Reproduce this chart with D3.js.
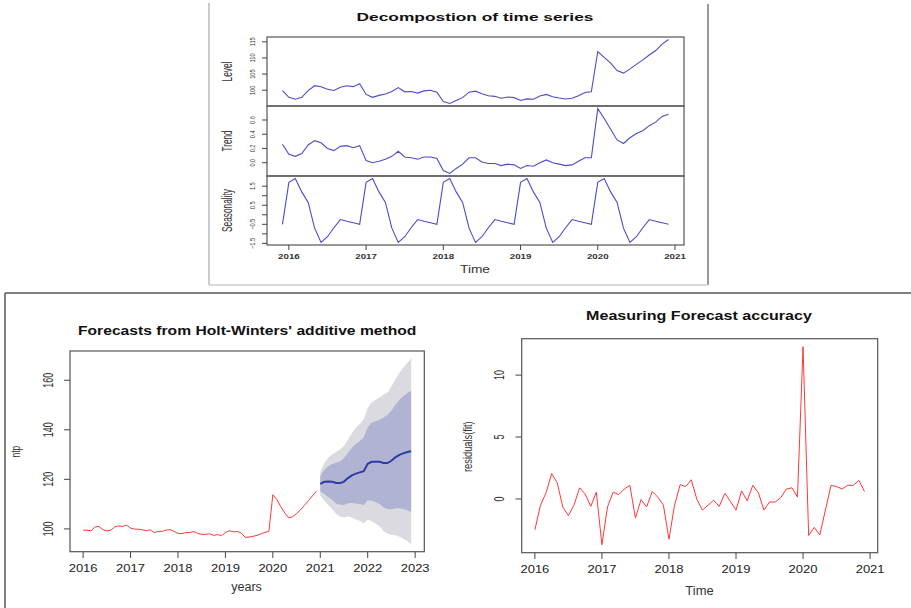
<!DOCTYPE html>
<html lang="en">
<head>
<meta charset="UTF-8">
<title>Holt-Winters</title>
<script src="https://cdn.jsdelivr.net/npm/d3@7"></script>
<style>
  body { margin: 0; background: #fff; }
  svg { display: block; font-family: "Liberation Sans", Arial, sans-serif; }
</style>
</head>
<body>
<svg id="chart" width="911" height="608"></svg>
<script>
// ---- data (monthly) ----
const decompStart = 2015 + 11 / 12;   // Dec 2015
const level = [99.9,
  97.8, 97.2, 97.8, 99.9, 101.4, 101.1, 100.3, 99.9, 100.9, 101.4, 101.1, 102.0,
  98.7, 97.8, 98.4, 98.8, 99.6, 100.8, 99.5, 99.6, 99.1, 99.8, 100.0, 99.4,
  96.5, 95.9, 96.8, 97.7, 99.4, 99.7, 98.9, 98.3, 98.1, 97.5, 97.9, 97.7,
  96.8, 97.3, 97.2, 98.2, 98.7, 98.0, 97.6, 97.3, 97.5, 98.3, 99.3, 99.5,
  112.0, 110.2, 108.4, 106.1, 105.3, 106.6, 108.0, 109.4, 110.9, 112.3, 114.3, 115.7];
const trend = [0.26,
  0.12, 0.09, 0.13, 0.25, 0.31, 0.28, 0.20, 0.17, 0.23, 0.24, 0.21, 0.24,
  0.03, 0.00, 0.02, 0.05, 0.09, 0.16, 0.08, 0.07, 0.05, 0.08, 0.08, 0.06,
  -0.11, -0.15, -0.08, -0.02, 0.07, 0.07, 0.01, -0.01, -0.01, -0.04, -0.02, -0.03,
  -0.08, -0.04, -0.05, 0.00, 0.04, 0.00, -0.02, -0.04, -0.03, 0.02, 0.07, 0.07,
  0.76, 0.62, 0.47, 0.32, 0.27, 0.35, 0.41, 0.45, 0.52, 0.57, 0.65, 0.68];
const season = [-0.5,
  1.7, 1.9, 1.2, 0.65, -0.7, -1.45, -1.15, -0.68, -0.25, -0.34, -0.42, -0.5,
  1.7, 1.9, 1.2, 0.65, -0.7, -1.45, -1.15, -0.68, -0.25, -0.34, -0.42, -0.5,
  1.7, 1.9, 1.2, 0.65, -0.7, -1.45, -1.15, -0.68, -0.25, -0.34, -0.42, -0.5,
  1.7, 1.9, 1.2, 0.65, -0.7, -1.45, -1.15, -0.68, -0.25, -0.34, -0.42, -0.5,
  1.7, 1.9, 1.2, 0.65, -0.7, -1.45, -1.15, -0.68, -0.25, -0.34, -0.42, -0.5];

const obsStart = 2016;                 // Jan 2016
const ntp = [
  99.5, 99.5, 99.2, 100.8, 101.0, 99.7, 99.2, 99.5, 100.8, 101.2, 101.0, 101.5,
  100.3, 99.9, 99.9, 99.6, 99.3, 99.6, 98.5, 99.0, 99.0, 99.5, 99.7, 99.0,
  98.2, 98.1, 98.5, 98.6, 98.9, 98.2, 97.8, 97.8, 98.0, 97.4, 97.7, 97.3,
  98.5, 99.3, 98.8, 99.0, 98.4, 96.6, 96.7, 97.0, 97.4, 98.0, 98.6, 99.0,
  113.8, 111.9, 109.0, 106.5, 104.5, 104.9, 106.2, 107.7, 109.5, 111.4, 113.3, 115.2];

const fcStart = 2021;                  // Jan 2021
const fcMean = [118.2, 119.0, 119.1, 119.0, 118.5, 118.5, 119.1, 120.5, 121.6, 122.3, 122.8, 123.3,
  126.3, 127.1, 127.1, 127.1, 126.6, 126.6, 127.5, 128.9, 129.9, 130.5, 131.0, 131.3];
const fcHi80 = [121.3, 123.9, 125.3, 126.2, 126.7, 127.3, 128.6, 130.6, 132.7, 134.4, 135.5, 137.0,
  141.0, 142.8, 143.4, 144.1, 145.0, 146.0, 147.8, 150.0, 152.0, 153.5, 154.8, 155.8];
const fcLo80 = [115.1, 114.1, 112.9, 111.8, 110.3, 109.7, 109.6, 110.4, 110.5, 110.2, 110.1, 109.6,
  111.6, 111.4, 110.8, 110.1, 108.6, 108.0, 107.9, 108.3, 108.3, 108.0, 107.5, 106.8];
const fcHi95 = [123.0, 126.5, 128.6, 130.0, 131.0, 132.0, 133.6, 136.0, 138.6, 140.8, 142.3, 144.3,
  148.8, 151.1, 152.1, 153.1, 154.1, 155.1, 157.5, 160.4, 162.9, 165.0, 167.0, 168.8];
const fcLo95 = [113.4, 111.5, 109.6, 108.0, 106.0, 105.0, 104.6, 105.0, 104.6, 103.8, 103.3, 102.3,
  103.8, 103.1, 102.1, 101.1, 99.1, 98.1, 97.5, 97.4, 96.9, 96.0, 95.0, 93.8];

const residStart = 2016;
const resid = [
  -2.5, -0.5, 0.5, 2.05, 1.3, -0.65, -1.35, -0.5, 0.9, 0.4, -0.6, 0.55,
  -3.7, -0.65, 0.55, 0.35, 0.8, 1.1, -1.55, -0.05, -0.65, 0.6, 0.15, -0.5,
  -3.25, -0.5, 1.15, 1.0, 1.55, -0.05, -0.9, -0.5, -0.1, -0.6, 0.45, -0.2,
  -0.9, 0.65, -0.15, 1.1, 0.5, -0.9, -0.25, -0.25, 0.1, 0.8, 0.9, 0.15,
  12.3, -2.95, -2.3, -2.9, -0.9, 1.1, 1.0, 0.8, 1.1, 1.1, 1.5, 0.6];

const decompYears = [2016, 2017, 2018, 2019, 2020, 2021];
const fcYears = [2016, 2017, 2018, 2019, 2020, 2021, 2022, 2023];
const residYears = [2016, 2017, 2018, 2019, 2020, 2021];
const levelTicks = [100, 105, 110, 115];
const trendTicks = [0, 0.2, 0.4, 0.6];
const seasonTicks = [-1.5, -1, -0.5, 0, 0.5, 1, 1.5];
const seasonLabels = [-1.5, -0.5, 0.5, 1.5];
const fcTicks = [100, 120, 140, 160];
const residTicks = [0, 5, 10];

// ---- helpers ----
const svg = d3.select("#chart");
const time = (start, i) => start + i / 12;
// R style axis range: data range stretched by 4% each side
const pad = ext => { const d = (ext[1] - ext[0]) * 0.04; return [ext[0] - d, ext[1] + d]; };

// text with its own stretch along the writing direction (the source image is squashed)
function txt(p, s, x, y, o) {
  const t = p.append("text").text(s)
    .attr("font-size", o.size)
    .attr("font-weight", o.bold ? "bold" : null)
    .attr("fill", o.fill || "#222")
    .attr("text-anchor", o.anchor || "middle");
  const k = o.w ? o.w / t.node().getComputedTextLength() : (o.k || 1);
  t.attr("transform", `translate(${x},${y})${o.rot ? " rotate(-90)" : ""} scale(${k},1)`);
  return t;
}

function box(g, x, y) {
  g.append("rect")
    .attr("x", x.range()[0]).attr("y", y.range()[1])
    .attr("width", x.range()[1] - x.range()[0]).attr("height", y.range()[0] - y.range()[1])
    .attr("fill", "none").attr("stroke", "#555").attr("stroke-width", 1.2);
}

// ---- outer frames ----
svg.append("line").attr("x1", 209).attr("y1", 3).attr("x2", 209).attr("y2", 285).attr("stroke", "#bbb").attr("stroke-width", 1.5);
svg.append("line").attr("x1", 708).attr("y1", 4).attr("x2", 708).attr("y2", 285).attr("stroke", "#777").attr("stroke-width", 1.5);
svg.append("line").attr("x1", 209).attr("y1", 285).attr("x2", 708).attr("y2", 285).attr("stroke", "#ccc").attr("stroke-width", 1.5);
svg.append("line").attr("x1", 5).attr("y1", 293).attr("x2", 911).attr("y2", 293).attr("stroke", "#555").attr("stroke-width", 1.5);
svg.append("line").attr("x1", 5).attr("y1", 293).attr("x2", 5).attr("y2", 608).attr("stroke", "#555").attr("stroke-width", 1.5);

// ---- decomposition ----
const dec = svg.append("g");
const dx = d3.scaleLinear()
  .domain(pad([decompStart, time(decompStart, level.length - 1)]))
  .range([267, 684]);
const panels = [
  { vals: level, y0: 37, y1: 106, ticks: levelTicks, labels: levelTicks, fmt: d3.format("d"), name: "Level", w: 20 },
  { vals: trend, y0: 106, y1: 176, ticks: trendTicks, labels: trendTicks, fmt: d3.format(".1f"), name: "Trend", w: 21 },
  { vals: season, y0: 176, y1: 245, ticks: seasonTicks, labels: seasonLabels, fmt: d3.format(".1f"), name: "Seasonality", w: 43 }
];
panels.forEach(p => {
  const y = d3.scaleLinear().domain(pad(d3.extent(p.vals))).range([p.y1, p.y0]);
  box(dec, dx, y);
  dec.append("path")
    .attr("d", d3.line().x((d, i) => dx(time(decompStart, i))).y(d => y(d))(p.vals))
    .attr("fill", "none").attr("stroke", "#4b4bcc").attr("stroke-width", 1.1);
  p.ticks.forEach(t => {
    dec.append("line").attr("x1", 262).attr("x2", 267).attr("y1", y(t)).attr("y2", y(t))
      .attr("stroke", "#444");
  });
  p.labels.forEach(t => txt(dec, p.fmt(t), 254.5, y(t), { size: 7, k: 0.8, rot: true, fill: "#333" }));
  txt(dec, p.name, 231.5, (p.y0 + p.y1) / 2, { size: 14, w: p.w, rot: true, fill: "#333" });
});
decompYears.forEach(t => {
  dec.append("line").attr("x1", dx(t)).attr("x2", dx(t)).attr("y1", 245).attr("y2", 250).attr("stroke", "#444");
  txt(dec, t, dx(t), 258.5, { size: 6.5, k: 1.5, bold: true, fill: "#333" });
});
txt(dec, "Decompostion of time series", 475, 21, { size: 10.5, w: 237, bold: true, fill: "#111" });
txt(dec, "Time", 475, 272.5, { size: 11.5, w: 30, fill: "#333" });

// ---- Holt-Winters forecast ----
const fc = svg.append("g");
const fx = d3.scaleLinear()
  .domain(pad([obsStart, time(fcStart, fcMean.length - 1)]))
  .range([70, 424.3]);
const fy = d3.scaleLinear()
  .domain(pad(d3.extent(ntp.concat(fcHi95, fcLo95))))
  .range([551.7, 351]);
const band = (lo, hi) => d3.area()
  .x((d, i) => fx(time(fcStart, i)))
  .y0((d, i) => fy(lo[i])).y1((d, i) => fy(hi[i]))(fcMean);
fc.append("path").attr("d", band(fcLo95, fcHi95)).attr("fill", "#dadae0");
fc.append("path").attr("d", band(fcLo80, fcHi80)).attr("fill", "#b0b4d2");
fc.append("path")
  .attr("d", d3.line().x((d, i) => fx(time(obsStart, i))).y(d => fy(d))(ntp))
  .attr("fill", "none").attr("stroke", "#ff3838").attr("stroke-width", 1);
fc.append("path")
  .attr("d", d3.line().x((d, i) => fx(time(fcStart, i))).y(d => fy(d))(fcMean))
  .attr("fill", "none").attr("stroke", "#2d3ca6").attr("stroke-width", 2);
box(fc, fx, fy);
fcYears.forEach(t => {
  fc.append("line").attr("x1", fx(t)).attr("x2", fx(t)).attr("y1", 551.7).attr("y2", 558).attr("stroke", "#444");
  txt(fc, t, fx(t), 571.7, { size: 11.7, k: 1.11 });
});
fcTicks.forEach(t => {
  fc.append("line").attr("x1", 64).attr("x2", 70).attr("y1", fy(t)).attr("y2", fy(t)).attr("stroke", "#444");
  txt(fc, t, 52.7, fy(t), { size: 14, k: 0.64, rot: true, fill: "#333" });
});
txt(fc, "Forecasts from Holt-Winters' additive method", 247.2, 335, { size: 12.5, w: 339, bold: true, fill: "#111" });
txt(fc, "years", 246.5, 591, { size: 12, w: 30.7, fill: "#333" });
txt(fc, "ntp", 20, 451.7, { size: 12, w: 11.7, rot: true, fill: "#333" });

// ---- residuals ----
const rs = svg.append("g");
const rx = d3.scaleLinear()
  .domain(pad([residStart, time(residStart, resid.length - 1)]))
  .range([521.7, 877.7]);
const ry = d3.scaleLinear().domain(pad(d3.extent(resid))).range([552.7, 338.7]);
rs.append("path")
  .attr("d", d3.line().x((d, i) => rx(time(residStart, i))).y(d => ry(d))(resid))
  .attr("fill", "none").attr("stroke", "#ff3838").attr("stroke-width", 1);
box(rs, rx, ry);
residYears.forEach(t => {
  rs.append("line").attr("x1", rx(t)).attr("x2", rx(t)).attr("y1", 552.7).attr("y2", 559).attr("stroke", "#444");
  txt(rs, t, rx(t), 572.5, { size: 11.7, k: 1.11 });
});
residTicks.forEach(t => {
  rs.append("line").attr("x1", 515.5).attr("x2", 521.7).attr("y1", ry(t)).attr("y2", ry(t)).attr("stroke", "#444");
  txt(rs, t, 504, ry(t), { size: 14, k: 0.64, rot: true, fill: "#333" });
});
txt(rs, "Measuring Forecast accuracy", 699, 320, { size: 12, w: 226, bold: true, fill: "#111" });
txt(rs, "Time", 699.5, 595, { size: 12, w: 28.3, fill: "#333" });
txt(rs, "residuals(fit)", 471.5, 446.7, { size: 12.5, w: 50.7, rot: true, fill: "#333" });
</script>
</body>
</html>
